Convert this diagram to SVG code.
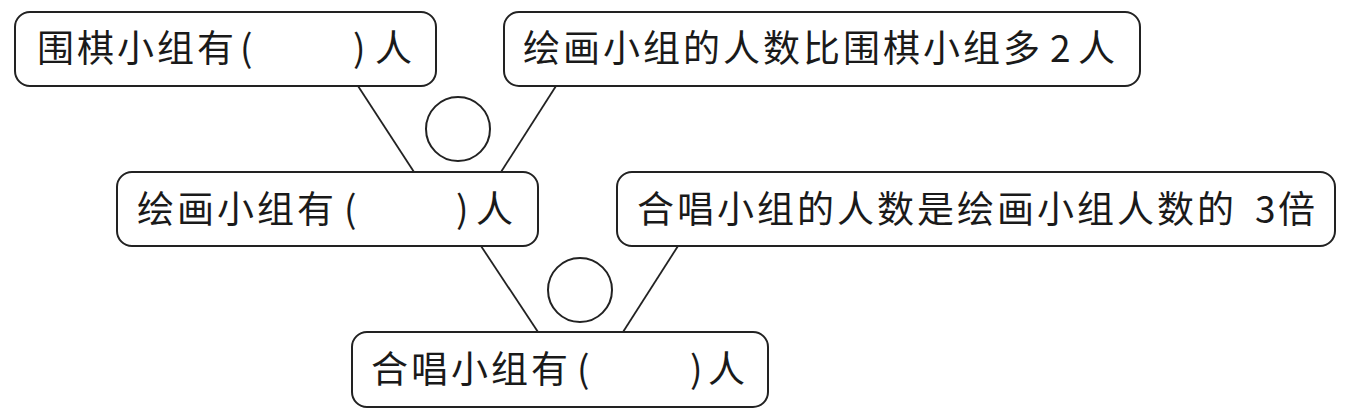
<svg xmlns="http://www.w3.org/2000/svg" width="1357" height="413" viewBox="0 0 1357 413">
<style>
.box{fill:#fff;stroke:#222;stroke-width:2}
.ln{stroke:#222;stroke-width:1.8;fill:none}
.op{fill:none;stroke:#222;stroke-width:2}
.t{font-family:"Noto Sans CJK SC","Noto Sans CJK JP",sans-serif;font-size:37px;fill:#1a1a1a;letter-spacing:3px}
.d{letter-spacing:0}
</style>
<rect width="1357" height="413" fill="#fff"/>
<g id="connectors">
<line class="ln" x1="358" y1="86" x2="414" y2="172"/>
<line class="ln" x1="556" y1="86" x2="501" y2="172"/>
<line class="ln" x1="481" y1="246" x2="538" y2="332"/>
<line class="ln" x1="678" y1="246" x2="623" y2="332"/>
<circle class="op" cx="458" cy="129" r="32"/>
<circle class="op" cx="580" cy="290" r="32"/>
</g>
<g id="node-weiqi">
<rect class="box" x="15" y="12" width="421" height="74" rx="15"/>
<text class="t" y="62"><tspan x="37">围棋小组有</tspan><tspan x="240">(</tspan><tspan x="353">)</tspan><tspan x="375">人</tspan></text>
</g>
<g id="node-huihua-rel">
<rect class="box" x="504" y="12" width="636" height="74" rx="15"/>
<text class="t" y="62"><tspan x="523">绘画小组的人数比围棋小组多</tspan><tspan class="d" x="1050">2</tspan><tspan x="1078">人</tspan></text>
</g>
<g id="node-huihua">
<rect class="box" x="117" y="172" width="421" height="74" rx="15"/>
<text class="t" y="223"><tspan x="137">绘画小组有</tspan><tspan x="344">(</tspan><tspan x="456">)</tspan><tspan x="476">人</tspan></text>
</g>
<g id="node-hechang-rel">
<rect class="box" x="617" y="172" width="718" height="74" rx="15"/>
<text class="t" y="223"><tspan x="637">合唱小组的人数是绘画小组人数的</tspan><tspan class="d" x="1255">3</tspan><tspan x="1278">倍</tspan></text>
</g>
<g id="node-hechang">
<rect class="box" x="352" y="332" width="416" height="75" rx="15"/>
<text class="t" y="383"><tspan x="371">合唱小组有</tspan><tspan x="577">(</tspan><tspan x="690">)</tspan><tspan x="708">人</tspan></text>
</g>
</svg>
